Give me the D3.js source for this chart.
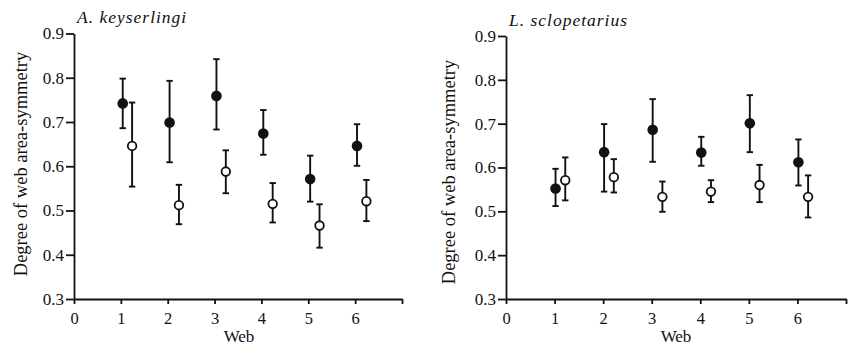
<!DOCTYPE html>
<meta charset="utf-8">
<style>
  body { margin: 0; background: white; }
  text { font-family: "Liberation Serif", "Times New Roman", serif; fill: #111; }
  .axis path, .axis line { stroke: #111; stroke-width: 1.8px; }
  .axis text { font-size: 17px; }
  .xaxis text { font-size: 16.5px; }
  .err { stroke: #111; stroke-width: 1.9px; }
</style>
<html>
<body>
<script src="https://d3js.org/d3.v7.min.js"></script>
<script>
  var width = 851;
  var height = 348;

  var webs = [1, 2, 3, 4, 5, 6];

  // A. keyserlingi
  var akFilled = [0.742, 0.699, 0.759, 0.674, 0.571, 0.646];
  var akFilledLo = [0.686, 0.609, 0.683, 0.626, 0.520, 0.601];
  var akFilledHi = [0.798, 0.793, 0.842, 0.727, 0.624, 0.695];
  var akOpen = [0.646, 0.512, 0.588, 0.515, 0.466, 0.521];
  var akOpenLo = [0.554, 0.469, 0.539, 0.473, 0.416, 0.476];
  var akOpenHi = [0.744, 0.558, 0.636, 0.562, 0.514, 0.569];

  // L. sclopetarius
  var lsFilled = [0.552, 0.635, 0.686, 0.634, 0.701, 0.612];
  var lsFilledLo = [0.512, 0.545, 0.613, 0.604, 0.635, 0.559];
  var lsFilledHi = [0.597, 0.699, 0.756, 0.670, 0.765, 0.664];
  var lsOpen = [0.571, 0.578, 0.533, 0.545, 0.560, 0.533];
  var lsOpenLo = [0.525, 0.543, 0.499, 0.521, 0.521, 0.486];
  var lsOpenHi = [0.623, 0.619, 0.568, 0.571, 0.606, 0.582];

  var yTicks = [0.3, 0.4, 0.5, 0.6, 0.7, 0.8, 0.9];
  var xTicks = [0, 1, 2, 3, 4, 5, 6, 7];
  var xLabels = ["0", "1", "2", "3", "4", "5", "6", ""];

  var svg = d3.select("body").append("svg")
    .attr("width", width)
    .attr("height", height);

  function panel(opt) {
    var x = d3.scaleLinear().domain([0, 7]).range([opt.x0, opt.x1]);
    var y = d3.scaleLinear().domain([0.3, 0.9]).range([299, opt.yTop]);
    var g = svg.append("g");

    g.append("g")
      .attr("class", "axis xaxis")
      .attr("transform", "translate(0,299)")
      .call(d3.axisBottom(x).tickValues(xTicks).tickSize(5).tickSizeOuter(0).tickPadding(8)
        .tickFormat(function(d, i) { return xLabels[i]; }));

    g.append("g")
      .attr("class", "axis")
      .attr("transform", "translate(" + opt.x0 + ",0)")
      .call(d3.axisLeft(y).tickValues(yTicks).tickSize(8).tickSizeOuter(0).tickPadding(2)
        .tickFormat(d3.format(".1f")));

    g.selectAll(".domain").attr("fill", "none");

    function series(vals, lo, hi, dx, filled) {
      var s = g.append("g");
      webs.forEach(function(w, i) {
        var cx = x(w + dx);
        s.append("line").attr("class", "err")
          .attr("x1", cx).attr("x2", cx).attr("y1", y(lo[i])).attr("y2", y(hi[i]));
        [lo[i], hi[i]].forEach(function(v) {
          s.append("line").attr("class", "err")
            .attr("x1", cx - 3.2).attr("x2", cx + 3.2).attr("y1", y(v)).attr("y2", y(v));
        });
        s.append("circle")
          .attr("cx", cx).attr("cy", y(vals[i]))
          .attr("r", filled ? 5.3 : 4.3)
          .attr("fill", filled ? "#111" : "white")
          .attr("stroke", "#111")
          .attr("stroke-width", filled ? 0 : 1.8);
      });
    }
    series(opt.open, opt.openLo, opt.openHi, opt.dOpen, false);
    series(opt.filled, opt.filledLo, opt.filledHi, opt.dFilled, true);

    g.append("text")
      .attr("x", opt.x0 + 3).attr("y", opt.titleY)
      .style("font-style", "italic").style("font-size", "17.5px")
      .style("letter-spacing", "1px")
      .text(opt.title);

    g.append("text")
      .attr("transform", "translate(" + opt.labelX + "," + opt.labelY + ") rotate(-90)")
      .attr("text-anchor", "middle")
      .style("font-size", "18.5px")
      .text("Degree of web area-symmetry");

    g.append("text")
      .attr("x", opt.webX).attr("y", 342)
      .attr("text-anchor", "middle")
      .style("font-size", "17px")
      .text("Web");
  }

  panel({
    x0: 74, x1: 402, yTop: 33.5, titleY: 23,
    labelX: 27, labelY: 164, webX: 239,
    dFilled: 0.04, dOpen: 0.24,
    title: "A. keyserlingi",
    filled: akFilled, filledLo: akFilledLo, filledHi: akFilledHi,
    open: akOpen, openLo: akOpenLo, openHi: akOpenHi
  });

  panel({
    x0: 506, x1: 846, yTop: 36, titleY: 26,
    labelX: 455, labelY: 172, webX: 676,
    dFilled: 0.02, dOpen: 0.22,
    title: "L. sclopetarius",
    filled: lsFilled, filledLo: lsFilledLo, filledHi: lsFilledHi,
    open: lsOpen, openLo: lsOpenLo, openHi: lsOpenHi
  });
</script>
</body>
</html>
